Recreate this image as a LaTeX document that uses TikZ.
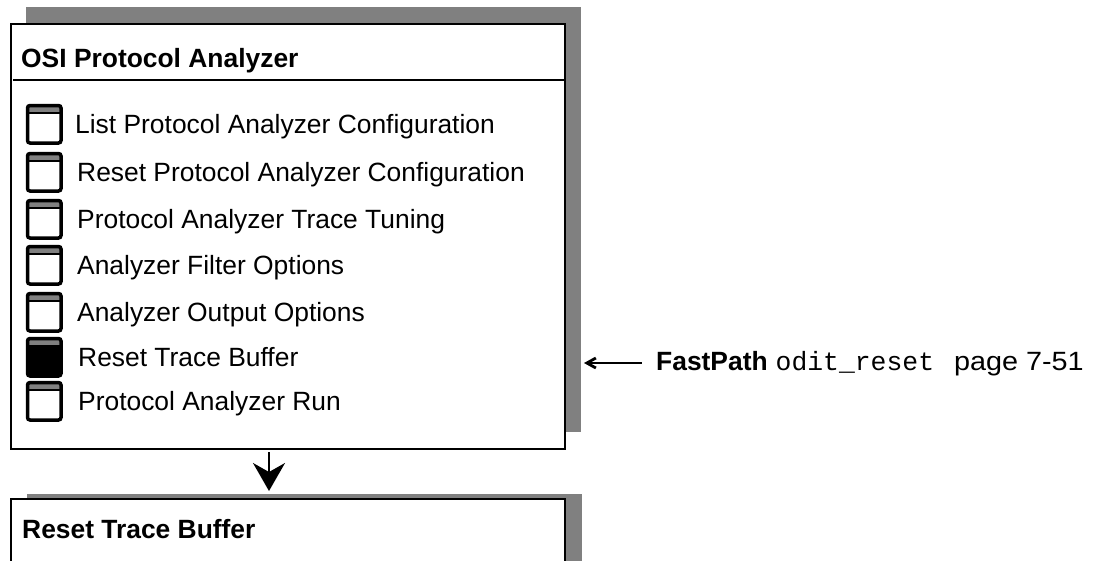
\documentclass[tikz,border=0pt]{standalone}
\usepackage{fontspec}
\setmainfont{Liberation Sans}
\setmonofont{Liberation Mono}
\usetikzlibrary{arrows.meta}
\definecolor{shadowgray}{gray}{0.5}
\tikzset{
  panel/.style={draw=black, line width=2pt, fill=white, inner sep=0pt, anchor=north west},
  heading/.style={anchor=base west, inner sep=0pt, font=\bfseries\fontsize{26.4}{30}\selectfont},
  entry/.style={anchor=base west, inner sep=0pt, font=\fontsize{26.4}{30}\selectfont},
  icon/.style={draw=black, line width=3.5pt, rounded corners=2.5pt, inner sep=0pt,
    minimum width=33.5pt, minimum height=37.5pt, anchor=north west,
    path picture={
      \fill[shadowgray] (path picture bounding box.north west) rectangle
        ([yshift=-7.5pt]path picture bounding box.north east);
      \draw[line width=2.2pt] ([yshift=-7.5pt]path picture bounding box.north west) --
        ([yshift=-7.5pt]path picture bounding box.north east);
    }},
  flow/.style={line width=2pt, -{Stealth[length=28pt,width=32pt,inset=9pt]}},
  pointer/.style={line width=2.6pt, {Straight Barb[length=9pt,width=10pt,line width=2.8pt]}-},
}
\begin{document}
\begin{tikzpicture}[x=1pt,y=-1pt]
  \useasboundingbox (0,0) rectangle (1093,560);
  \clip (0,0) rectangle (1093,560);

  % menu panel with its drop shadow
  \fill[shadowgray] (26,7) rectangle (581,432);
  \node[panel, minimum width=554pt, minimum height=425pt] (analyzer) at (10,23) {};
  \node[heading] (title) at (21,67) {OSI Protocol Analyzer};
  \draw[line width=2pt] (13,80) -- (564,80);

  % menu entries
  \foreach \top/\col/\tx/\txt [count=\i] in {
      102/white/75/List Protocol Analyzer Configuration,
      150/white/77/Reset Protocol Analyzer Configuration,
      197/white/77/Protocol Analyzer Trace Tuning,
      243/white/77/Analyzer Filter Options,
      290/white/77/Analyzer Output Options,
      335/black/78/Reset Trace Buffer,
      379/white/78/Protocol Analyzer Run}{
    \node[icon, fill=\col] (icon\i) at (25.75,\top+1.75) {};
    \node[entry] (item\i) at (\tx,\top+31) {\txt};
  }

  % cross reference
  \node[anchor=base west, inner sep=0pt, font=\fontsize{26.4}{30}\selectfont] (note) at (656,370)
    {\textbf{FastPath}\hspace{8pt}\texttt{odit\_reset}\hspace{20pt}\scalebox{1.09}[1]{page 7-51}};
  \coordinate (tip) at (584,363);
  \draw[pointer] (tip) -- (note.west |- tip) [shorten >=14pt];

  % selected screen panel
  \fill[shadowgray] (27,494) rectangle (582,600);
  \node[panel, minimum width=554pt, minimum height=120pt] (reset) at (10,498) {};
  \node[heading] (resettitle) at (22,538) {Reset Trace Buffer};

  % flow to the selected screen
  \coordinate (drop) at (269,0);
  \draw[flow, shorten <=2pt, shorten >=7pt] (analyzer.south -| drop) -- (reset.north -| drop);
\end{tikzpicture}
\end{document}
